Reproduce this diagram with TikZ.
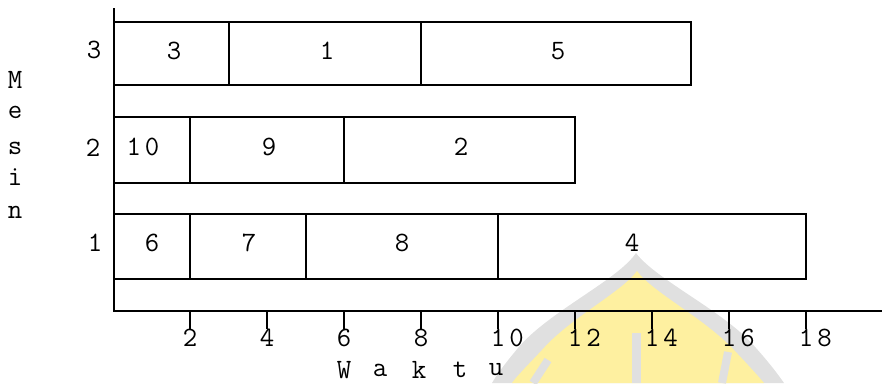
\documentclass[tikz,border=0pt]{standalone}
\usepackage{fontspec}
\definecolor{wmgrey}{RGB}{224,224,224}
\definecolor{wmyellow}{RGB}{254,240,160}
\begin{document}
\begin{tikzpicture}[x=1pt,y=-1pt,
  bar/.style={draw=black,line width=2pt},
  axisline/.style={draw=black,line width=2pt},
  lab/.style={font=\fontsize{28}{28}\selectfont\ttfamily,inner sep=0pt,text=black},
]
\useasboundingbox (0,0) rectangle (882,383);

% faint dome emblem in the background
\fill[wmgrey] (636,253) .. controls (618,280) and (548,312) .. (518,348)
  .. controls (503,366) and (496,376) .. (492,383) -- (784,383)
  .. controls (779,376) and (772,366) .. (756,348)
  .. controls (726,312) and (656,280) .. (636,253) -- cycle;
\fill[wmyellow] (637,271) .. controls (622,292) and (570,318) .. (542,350)
  .. controls (526,367) and (516,377) .. (512,383) -- (764,383)
  .. controls (759,377) and (750,367) .. (734,350)
  .. controls (704,318) and (652,292) .. (637,271) -- cycle;
\fill[wmgrey] (632,333) rectangle (641,383);
\draw[wmgrey,line width=8pt] (548,360) -- (533,383);
\draw[wmgrey,line width=8pt] (728,352) -- (722,383);

% axes
\coordinate (top) at (114,8);
\coordinate (origin) at (114,311);
\coordinate (xend) at (882,311);
\draw[axisline] (top) -- (origin) -- (xend);

% time ticks and their numbers
\foreach \t/\xx in {2/190,4/267,6/344,8/421}{
  \coordinate (tick\t) at (\xx,311);
  \draw[line width=1.8pt] (tick\t) -- ++(0,18);
  \node[lab] (tl\t) at (\xx,338) {\t};
}
\foreach \t/\u/\xx in {10/0/498,12/2/575,14/4/652,16/6/729,18/8/806}{
  \coordinate (tick\t) at (\xx,311);
  \draw[line width=1.8pt] (tick\t) -- ++(0,18);
  \node[lab,anchor=west] (tl\t) at (\xx-7.35,338) {1\kern4pt\u};
}

% axis titles
\foreach \c/\x [count=\i] in {W/344,a/380,k/419,t/460,u/496}
  \node[lab] (wk\i) at (\x,370) {\c};
\foreach \c/\y [count=\i] in {M/80,e/112,s/148,i/177,n/212}
  \node[lab] (ms\i) at (15,\y) {\c};

% machine numbers
\node[lab] (m3) at (94,50) {3};
\node[lab] (m2) at (93,148) {2};
\node[lab] (m1) at (95,243) {1};

% job bars: row top/bottom, start x, end x, job, label x, label y
\foreach \ya/\yb/\s/\e/\j/\lx/\ly in {
  22/85/114/229/3/174/51, 22/85/229/421/1/327/51, 22/85/421/691/5/558/51,
  117/183/190/344/9/269/147, 117/183/344/575/2/461/147,
  214/279/114/190/6/152/243, 214/279/190/306/7/249/243,
  214/279/306/498/8/402/243, 214/279/498/806/4/632/243}{
  \draw[bar] (\s,\ya) rectangle (\e,\yb);
  \node[lab] (job\j) at (\lx,\ly) {\j};
}
\draw[bar] (114,117) rectangle (190,183);
\node[lab] (job10) at (143,147) {1\kern4pt0};
\end{tikzpicture}
\end{document}
